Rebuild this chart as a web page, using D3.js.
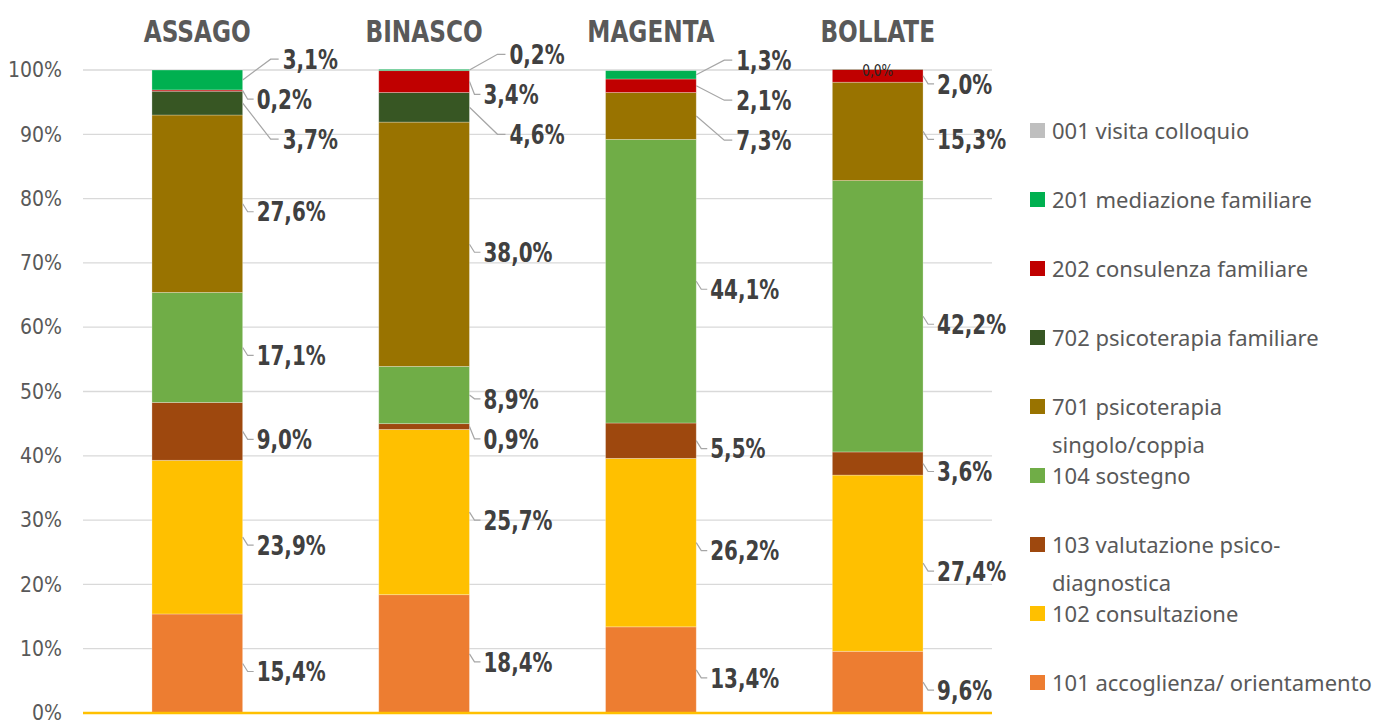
<!DOCTYPE html>
<html>
<head>
<meta charset="utf-8">
<script src="https://cdn.jsdelivr.net/npm/d3@7"></script>
<style>
  html, body { margin: 0; padding: 0; background: #ffffff; }
  svg { display: block; }
</style>
</head>
<body>
<svg id="chart" width="1385" height="722"></svg>
<script>
// ---- data ----
const categories = ["ASSAGO", "BINASCO", "MAGENTA", "BOLLATE"];
// series keys, bottom of stack first
const seriesKeys = ["101", "102", "103", "104", "701", "702", "202", "201", "001"];
const seriesNames = {
  "001": ["001 visita colloquio"],
  "201": ["201 mediazione familiare"],
  "202": ["202 consulenza familiare"],
  "702": ["702 psicoterapia familiare"],
  "701": ["701 psicoterapia", "singolo/coppia"],
  "104": ["104 sostegno"],
  "103": ["103 valutazione psico-", "diagnostica"],
  "102": ["102 consultazione"],
  "101": ["101 accoglienza/ orientamento"]
};
// percentages per category (ASSAGO, BINASCO, MAGENTA, BOLLATE); null = no value
const s101 = [15.4, 18.4, 13.4, 9.6];
const s102 = [23.9, 25.7, 26.2, 27.4];
const s103 = [9.0, 0.9, 5.5, 3.6];
const s104 = [17.1, 8.9, 44.1, 42.2];
const s701 = [27.6, 38.0, 7.3, 15.3];
const s702 = [3.7, 4.6, null, null];
const s202 = [0.2, 3.4, 2.1, 2.0];
const s201 = [3.1, 0.2, 1.3, 0.04];
const s001 = [null, null, null, null];
const yTicks = [0, 10, 20, 30, 40, 50, 60, 70, 80, 90, 100];

const seriesValues = { "101": s101, "102": s102, "103": s103, "104": s104, "701": s701,
                       "702": s702, "202": s202, "201": s201, "001": s001 };
const colors = { "001": "#BFBFBF", "201": "#00B050", "202": "#C00000", "702": "#375623",
                 "701": "#997300", "104": "#70AD47", "103": "#9E480E", "102": "#FFC000", "101": "#ED7D31" };

// ---- layout ----
const svg = d3.select("#chart");
const plotLeft = 83, plotRight = 992, plotTop = 70, plotBottom = 713;
const narrow = "'Liberation Sans Narrow', 'Arial Narrow', 'DejaVu Sans Condensed', sans-serif";

const x = d3.scaleBand().domain(categories).range([plotLeft, plotRight])
  .paddingInner(0.6).paddingOuter(0.304);
const y = d3.scaleLinear().domain([0, 100]).range([plotBottom, plotTop]);

// gridlines
svg.append("g")
  .selectAll("line").data(yTicks.filter(t => t > 0)).join("line")
  .attr("x1", plotLeft).attr("x2", plotRight)
  .attr("y1", d => y(d)).attr("y2", d => y(d))
  .attr("stroke", "#D9D9D9").attr("stroke-width", 1.3);

// y axis
const yAxis = d3.axisLeft(y).tickValues(yTicks).tickFormat(d => d + "%").tickSize(0).tickPadding(21);
const ga = svg.append("g").attr("transform", `translate(${plotLeft},0)`).call(yAxis);
ga.select(".domain").remove();
ga.selectAll("text").attr("font-family", narrow).attr("font-size", 21).attr("fill", "#595959");

// stacked data
const rows = categories.map((c, i) => {
  const r = { cat: c };
  seriesKeys.forEach(k => { r[k] = seriesValues[k][i] == null ? 0 : seriesValues[k][i]; });
  return r;
});
const stacked = d3.stack().keys(seriesKeys)(rows);

const barsG = svg.append("g");
stacked.forEach(layer => {
  barsG.append("g").attr("fill", colors[layer.key])
    .selectAll("rect").data(layer).join("rect")
    .attr("x", d => x(d.data.cat))
    .attr("width", x.bandwidth())
    .attr("y", d => y(d[1]))
    .attr("height", d => Math.max(0, y(d[0]) - y(d[1])))
    .attr("stroke", "rgba(255,255,255,0.35)").attr("stroke-width", 0.8);
});

// baseline
svg.append("line").attr("x1", plotLeft).attr("x2", plotRight)
  .attr("y1", y(0)).attr("y2", y(0)).attr("stroke", "#FFC000").attr("stroke-width", 2.5);

// category titles (horizontally condensed)
svg.append("g").selectAll("text").data(categories).join("text")
  .attr("transform", d => `translate(${x(d) + x.bandwidth() / 2},42) scale(0.86,1)`)
  .attr("text-anchor", "middle").attr("font-family", narrow).attr("font-weight", "bold")
  .attr("font-size", 30).attr("fill", "#595959").text(d => d);

// data labels
const fmt = v => v.toFixed(1).replace(".", ",") + "%";
const labelsG = svg.append("g");
categories.forEach((c, ci) => {
  const barRight = x(c) + x.bandwidth();
  const items = [];
  stacked.slice().reverse().forEach(layer => {
    const v = seriesValues[layer.key][ci];
    if (v == null) return;
    const d = layer[ci];
    const cy = y((d[0] + d[1]) / 2);
    if (v < 0.05) {
      labelsG.append("text")
        .attr("transform", `translate(${x(c) + x.bandwidth() / 2},${cy + 7}) scale(0.85,1)`)
        .attr("text-anchor", "middle").attr("font-family", narrow).attr("font-size", 16)
        .attr("fill", "#262626").text(fmt(v));
      return;
    }
    items.push({ v, cy, ly: cy + 8 });
  });
  // relax overlapping labels
  const gap = 40;
  for (let it = 0; it < 200; it++) {
    for (let i = 1; i < items.length; i++) {
      const diff = items[i].ly - items[i - 1].ly;
      if (diff < gap) {
        const m = (gap - diff) / 2;
        items[i].ly += m; items[i - 1].ly -= m;
      }
    }
  }
  items.forEach(it => {
    const moved = Math.abs(it.ly - it.cy) > 13;
    const tx = moved ? barRight + 40 : barRight + 14;
    const path = moved
      ? `M${barRight},${it.cy} L${barRight + 28},${it.ly} L${barRight + 36},${it.ly}`
      : `M${barRight},${it.cy} L${barRight + 5},${it.ly} L${barRight + 11},${it.ly}`;
    labelsG.append("path").attr("d", path).attr("fill", "none")
      .attr("stroke", "#A6A6A6").attr("stroke-width", 1.2);
    labelsG.append("text")
      .attr("transform", `translate(${tx},${it.ly}) scale(0.82,1)`).attr("dy", "0.36em")
      .attr("font-family", narrow).attr("font-weight", "bold").attr("font-size", 27)
      .attr("fill", "#404040").text(fmt(it.v));
  });
});

// legend
const legendKeys = seriesKeys.slice().reverse();
const ly = d3.scalePoint().domain(legendKeys).range([131, 683]);
const lg = svg.append("g");
legendKeys.forEach(k => {
  const g = lg.append("g").attr("transform", `translate(1030,${ly(k)})`);
  g.append("rect").attr("x", 0).attr("y", -8).attr("width", 15).attr("height", 15).attr("fill", colors[k]);
  seriesNames[k].forEach((line, li) => {
    g.append("text").attr("x", 22).attr("y", li * 38).attr("dy", "0.35em")
      .attr("font-family", "'Noto Sans', 'Open Sans', sans-serif").attr("font-size", 22)
      .attr("fill", "#595959").text(line);
  });
});
</script>
</body>
</html>
